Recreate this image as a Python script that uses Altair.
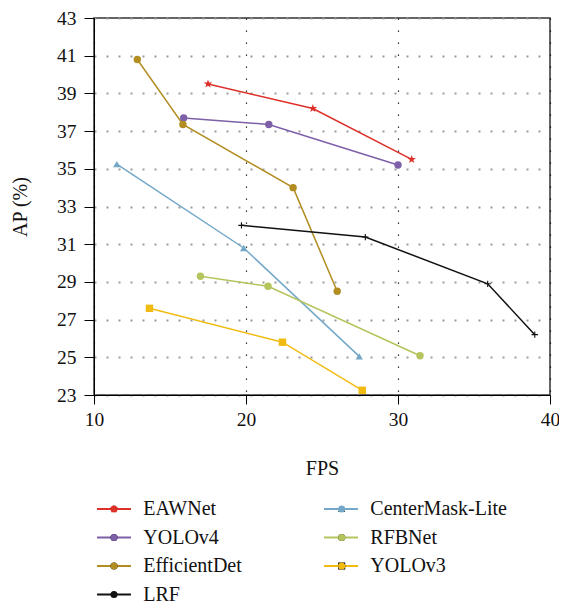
import altair as alt
import pandas as pd

# ---- data ----
models = ["EAWNet", "YOLOv4", "EfficientDet", "LRF", "CenterMask-Lite", "RFBNet", "YOLOv3"]
colors = ["#dd3029", "#7d60a8", "#b28d22", "#111111", "#74a8c8", "#b5c45c", "#f2bb12"]

eawnet_fps = [17.5, 24.4, 30.9]
eawnet_ap = [39.5, 38.2, 35.5]

yolov4_fps = [15.9, 21.5, 30.0]
yolov4_ap = [37.7, 37.35, 35.2]

effdet_fps = [12.85, 15.85, 23.1, 26.0]
effdet_ap = [40.8, 37.35, 34.0, 28.5]

lrf_fps = [19.7, 27.85, 35.9, 39.0]
lrf_ap = [32.0, 31.38, 28.9, 26.2]

centermask_fps = [11.5, 19.85, 27.45]
centermask_ap = [35.25, 30.8, 25.05]

rfbnet_fps = [17.0, 21.45, 31.45]
rfbnet_ap = [29.3, 28.77, 25.08]

yolov3_fps = [13.65, 22.4, 27.65]
yolov3_ap = [27.6, 25.8, 23.25]

x_ticks = [10, 20, 30, 40]
y_ticks = [23, 25, 27, 29, 31, 33, 35, 37, 39, 41, 43]

STAR = ("M0,-1.2L0.282,-0.389L1.141,-0.371L0.456,0.149L0.706,0.971L0,0.48"
        "L-0.706,0.971L-0.456,0.149L-1.141,-0.371L-0.282,-0.389Z")
PLUS = ("M-0.85,-0.15H-0.15V-0.85H0.15V-0.15H0.85V0.15H0.15V0.85H-0.15V0.15H-0.85Z")
shapes = [STAR, "circle", "circle", PLUS, "triangle-up", "circle", "square"]

series = {
    "EAWNet": (eawnet_fps, eawnet_ap),
    "YOLOv4": (yolov4_fps, yolov4_ap),
    "EfficientDet": (effdet_fps, effdet_ap),
    "LRF": (lrf_fps, lrf_ap),
    "CenterMask-Lite": (centermask_fps, centermask_ap),
    "RFBNet": (rfbnet_fps, rfbnet_ap),
    "YOLOv3": (yolov3_fps, yolov3_ap),
}

rows = []
for m in models:
    fx, fy = series[m]
    for i, (a, b) in enumerate(zip(fx, fy)):
        rows.append({"model": m, "model2": m, "fps": a, "ap": b, "idx": i})
df = pd.DataFrame(rows)

FONT = "Liberation Serif"
W, H = 456, 377

x_enc = alt.X("fps:Q", scale=alt.Scale(domain=[10, 40], nice=False, zero=False),
              axis=alt.Axis(values=x_ticks, title="FPS", tickSize=9, labelPadding=6,
                            labelFlush=False,
                            titleX=W / 2, titleY=73, titleBaseline="middle", titleAlign="center",
                            gridColor="#000000", gridDash=[1.2, 10.8], gridWidth=1.2))
y_enc = alt.Y("ap:Q", scale=alt.Scale(domain=[23, 43], nice=False, zero=False),
              axis=alt.Axis(values=y_ticks, title="AP (%)", tickSize=10, labelPadding=8,
                            labelFlush=False,
                            titleX=-74, titleY=H / 2, titleBaseline="middle", titleAlign="center",
                            gridColor="#9a9a9a", gridDash=[2, 10], gridWidth=2))

common_legend = dict(orient="none", legendX=10, legendY=481, columns=2, title=None,
                     labelFont=FONT, labelFontSize=20, labelColor="#111111",
                     symbolSize=50, rowPadding=8.5, labelOffset=19.3,
                     padding=0, labelLimit=300)

lines = alt.Chart(df).mark_line(strokeWidth=1.5).encode(
    x=x_enc, y=y_enc,
    color=alt.Color("model:N", scale=alt.Scale(domain=models, range=colors),
                    legend=alt.Legend(symbolType="M-4.8,0H4.8", symbolStrokeWidth=2,
                                      columnPadding=78, **common_legend)),
    order="idx:Q",
)

marker_legend = dict(symbolStrokeWidth=0, labelExpr="''", columnPadding=187.7, **common_legend)

points = alt.Chart(df).mark_point(filled=True, size=55, opacity=1).encode(
    x=x_enc, y=y_enc,
    fill=alt.Fill("model2:N", sort=models, scale=alt.Scale(range=colors),
                  legend=alt.Legend(**marker_legend)),
    shape=alt.Shape("model2:N", sort=models, scale=alt.Scale(range=shapes),
                    legend=alt.Legend(**marker_legend)),
)

chart = alt.layer(lines, points).properties(
    width=W, height=H,
    autosize=alt.AutoSizeParams(type="none"),
    padding={"left": 86, "top": 10, "right": 9, "bottom": 210},
).configure_view(
    stroke="#333333", strokeWidth=1.5,
).configure_axis(
    labelFont=FONT, labelFontSize=19.5, labelColor="#111111",
    titleFont=FONT, titleFontSize=20, titleColor="#111111", titleFontWeight="normal",
    domainColor="#000000", domainWidth=1, tickColor="#000000", tickWidth=1,
    grid=True,
)

chart.save("out.html", embed_options={"renderer": "svg", "actions": False})
